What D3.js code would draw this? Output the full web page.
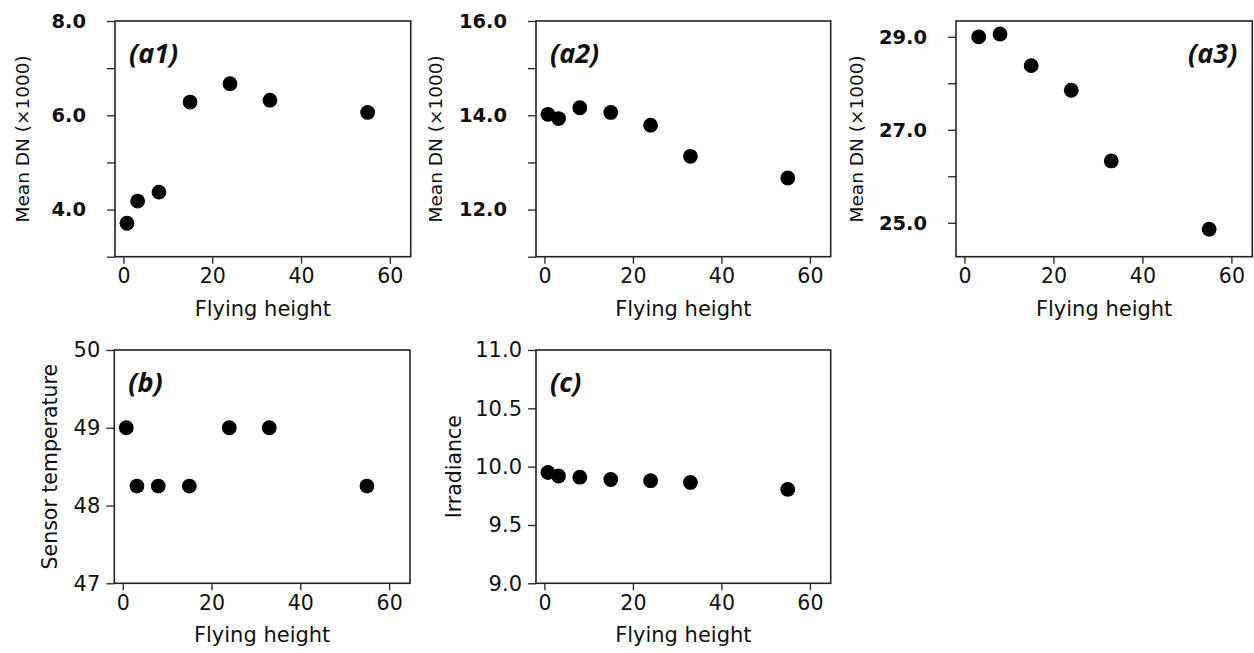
<!DOCTYPE html>
<html>
<head>
<meta charset="utf-8">
<script src="https://cdn.jsdelivr.net/npm/d3@7"></script>
<style>
  html, body { margin: 0; padding: 0; background: #fff; }
  svg { display: block; }
  .tick text { font-family: "DejaVu Sans", sans-serif; fill: #111; }
</style>
</head>
<body>
<div id="chart"></div>
<script>
const heights = [0.8, 3.2, 8, 15, 24, 33, 55];
const heightsA3 = [3.2, 8, 15, 24, 33, 55];
const meanDnA1 = [3.71, 4.18, 4.37, 6.28, 6.67, 6.32, 6.06];
const meanDnA2 = [14.02, 13.93, 14.16, 14.06, 13.79, 13.13, 12.67];
const meanDnA3 = [29.0, 29.06, 28.38, 27.85, 26.33, 24.86];
const sensorTemp = [49, 48.25, 48.25, 48.25, 49, 49, 48.25];
const irradiance = [9.95, 9.92, 9.91, 9.89, 9.88, 9.865, 9.805];

// 刻度
const xTicks = [0, 20, 40, 60];
const ticksA1 = [3, 4, 5, 6, 7, 8], labelsA1 = [4, 6, 8];
const ticksA2 = [11, 12, 13, 14, 15, 16], labelsA2 = [12, 14, 16];
const ticksA3 = [25, 26, 27, 28, 29], labelsA3 = [25, 27, 29];
const ticksB = [47, 48, 49, 50];
const ticksC = [9.0, 9.5, 10.0, 10.5, 11.0];

const svg = d3.select('#chart').append('svg')
  .attr('width', 1254)
  .attr('height', 653);

// 单个面板绘制
function drawPanel(p) {
  const x = d3.scaleLinear().domain([-1.9, 64.7]).range([p.x0, p.x1]);
  const y = d3.scaleLinear().domain(p.yDomain).range([p.y1, p.y0]);
  const g = svg.append('g');

  // x 轴
  g.append('g')
    .attr('transform', `translate(0,${p.y1})`)
    .call(d3.axisBottom(x).tickValues(xTicks).tickFormat(d3.format('d')).tickSize(7).tickPadding(5))
    .call(a => a.select('.domain').remove())
    .call(a => a.selectAll('.tick line').attr('stroke', '#222').attr('stroke-width', 1.3))
    .call(a => a.selectAll('.tick text').style('font-size', '20.5px'));

  // y 轴
  const fmt = p.bold ? d3.format('.1f') : p.yFormat;
  g.append('g')
    .attr('transform', `translate(${p.x0},0)`)
    .call(d3.axisLeft(y).tickValues(p.yTicks)
      .tickFormat(d => (p.yLabels ? (p.yLabels.includes(d) ? fmt(d) : '') : fmt(d)))
      .tickSize(8).tickPadding(p.bold ? 21 : 6))
    .call(a => a.select('.domain').remove())
    .call(a => a.selectAll('.tick line').attr('stroke', '#222').attr('stroke-width', 1.3))
    .call(a => a.selectAll('.tick text')
      .style('font-size', p.bold ? '19.5px' : '21px')
      .style('font-weight', p.bold ? 'bold' : 'normal'));

  // 边框
  g.append('rect')
    .attr('x', p.x0).attr('y', p.y0)
    .attr('width', p.x1 - p.x0).attr('height', p.y1 - p.y0)
    .attr('fill', 'none').attr('stroke', '#222').attr('stroke-width', 1.6);

  // 散点
  g.selectAll('circle')
    .data(p.xs.map((h, i) => ({ h, v: p.ys[i] })))
    .join('circle')
    .attr('cx', d => x(d.h))
    .attr('cy', d => y(d.v))
    .attr('r', 7.4)
    .attr('fill', '#000');

  // 轴标题
  g.append('text')
    .attr('x', (p.x0 + p.x1) / 2)
    .attr('y', p.y1 + 59)
    .attr('text-anchor', 'middle')
    .style('font-family', '"DejaVu Sans", sans-serif')
    .style('font-size', '21px')
    .attr('fill', '#111')
    .text('Flying height');

  g.append('text')
    .attr('transform', `translate(${p.labelX},${(p.y0 + p.y1) / 2}) rotate(-90)`)
    .attr('text-anchor', 'middle')
    .attr('dy', '0.35em')
    .style('font-family', '"DejaVu Sans", sans-serif')
    .style('font-size', p.labelSize)
    .attr('fill', '#111')
    .text(p.yTitle);

  // 面板编号
  g.append('text')
    .attr('x', p.tagRight ? p.x1 - 15 : p.x0 + 14)
    .attr('y', p.y0 + 42)
    .attr('text-anchor', p.tagRight ? 'end' : 'start')
    .style('font-family', '"Open Sans", "Liberation Sans", sans-serif')
    .style('font-size', '27px')
    .style('font-weight', 'bold')
    .style('font-style', 'italic')
    .attr('fill', '#111')
    .text(p.tag);
}

drawPanel({ x0: 115, x1: 410.7, y0: 21, y1: 256.7, yDomain: [3, 8],
  xs: heights, ys: meanDnA1, yTicks: ticksA1, yLabels: labelsA1, bold: true,
  yTitle: 'Mean DN (×1000)', labelX: 23, labelSize: '18.5px', tag: '(a1)' });

drawPanel({ x0: 536, x1: 830.7, y0: 21, y1: 256.7, yDomain: [11, 16],
  xs: heights, ys: meanDnA2, yTicks: ticksA2, yLabels: labelsA2, bold: true,
  yTitle: 'Mean DN (×1000)', labelX: 436, labelSize: '18.5px', tag: '(a2)' });

drawPanel({ x0: 956, x1: 1252.3, y0: 21, y1: 256.7, yDomain: [24.27, 29.34],
  xs: heightsA3, ys: meanDnA3, yTicks: ticksA3, yLabels: labelsA3, bold: true,
  yTitle: 'Mean DN (×1000)', labelX: 857, labelSize: '18.5px', tag: '(a3)', tagRight: true });

drawPanel({ x0: 114.3, x1: 410, y0: 350, y1: 583.3, yDomain: [47, 50],
  xs: heights, ys: sensorTemp, yTicks: ticksB, yFormat: d3.format('d'),
  yTitle: 'Sensor temperature', labelX: 50, labelSize: '20.5px', tag: '(b)' });

drawPanel({ x0: 536, x1: 830.7, y0: 350, y1: 583.3, yDomain: [9, 11],
  xs: heights, ys: irradiance, yTicks: ticksC, yFormat: d3.format('.1f'),
  yTitle: 'Irradiance', labelX: 454, labelSize: '20.5px', tag: '(c)' });
</script>
</body>
</html>
